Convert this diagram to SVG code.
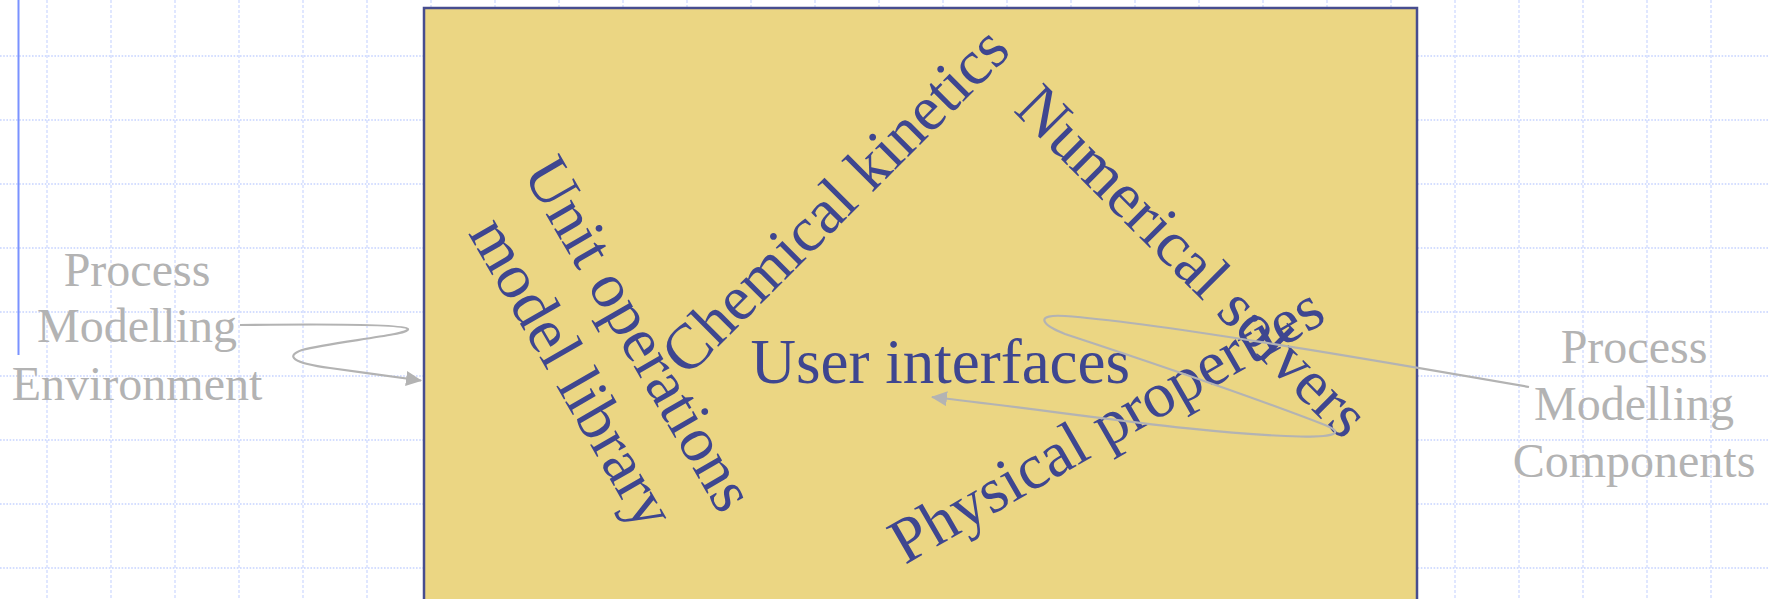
<svg xmlns="http://www.w3.org/2000/svg" width="1769" height="599" viewBox="0 0 1769 599">
  <style>
    .grid-h { stroke: #c6d3ff; stroke-width: 1.6; stroke-dasharray: 1.6 1.6; fill: none; }
    .grid-v { stroke: #d3ddff; stroke-width: 1.4; stroke-dasharray: 3 2; fill: none; }
    .topic { font-family: "Liberation Serif", "Times New Roman", serif; font-size: 64px; fill: #3e4690; }
    .note { font-family: "Liberation Serif", "Times New Roman", serif; font-size: 48px; fill: #b3b3b3; text-anchor: middle; }
    .conn { fill: none; stroke: #b3b3b3; stroke-width: 2.2; }
  </style>
  <defs>
    <marker id="arrow" markerUnits="userSpaceOnUse" markerWidth="18" markerHeight="16" refX="15" refY="7.5" orient="auto">
      <path d="M0,0 L16,7.5 L0,15 z" fill="#b3b3b3"/>
    </marker>
  </defs>

  <rect width="1769" height="599" fill="#ffffff"/>

  <!-- background grid -->
  <g id="grid">
    <path class="grid-h" d="M0,56H1769M0,120H1769M0,184H1769M0,248H1769M0,312H1769M0,376H1769M0,440H1769M0,504H1769M0,568H1769"/>
    <path class="grid-v" d="M47,0V599M111,0V599M175,0V599M239,0V599M303,0V599M367,0V599M431,0V599M495,0V599M559,0V599M623,0V599M687,0V599M751,0V599M815,0V599M879,0V599M943,0V599M1007,0V599M1071,0V599M1135,0V599M1199,0V599M1263,0V599M1327,0V599M1391,0V599M1455,0V599M1519,0V599M1583,0V599M1647,0V599M1711,0V599"/>
    <line x1="18.5" y1="0" x2="18.5" y2="355" stroke="#7a92ff" stroke-width="2"/>
  </g>

  <!-- environment panel -->
  <g id="environment">
    <rect x="424" y="8" width="993" height="620" fill="#ebd683" stroke="#474d8f" stroke-width="2.5"/>
  </g>

  <g id="unit-operations">
    <text class="topic" text-anchor="middle" transform="translate(621,344.5) rotate(60)"><tspan x="0" y="0">Unit operations</tspan><tspan x="0" y="77">model library</tspan></text>
  </g>
  <g id="chemical-kinetics">
    <text class="topic" transform="translate(687,378) rotate(-45)">Chemical kinetics</text>
  </g>
  <g id="numerical-solvers">
    <text class="topic" transform="translate(1012.5,110.7) rotate(45)">Numerical solvers</text>
  </g>
  <g id="user-interfaces">
    <text class="topic" x="750.5" y="383" style="font-size:63px">User interfaces</text>
  </g>
  <g id="physical-properties">
    <text class="topic" transform="translate(905,565) rotate(-30)">Physical properties</text>
  </g>

  <g id="label-environment">
    <text class="note"><tspan x="137" y="286">Process</tspan><tspan x="137" y="342">Modelling</tspan><tspan x="137" y="400">Environment</tspan></text>
  </g>
  <g id="label-components">
    <text class="note"><tspan x="1634" y="363">Process</tspan><tspan x="1634" y="420">Modelling</tspan><tspan x="1634" y="477">Components</tspan></text>
  </g>

  <!-- connectors -->
  <g id="connectors">
    <path class="conn" marker-end="url(#arrow)" d="M240,325 C320,324 405,324 408,329 C410,335 330,342 302,350 C285,356 292,363 330,368 C360,372 395,377 421,380.5"/>
    <path class="conn" marker-end="url(#arrow)" d="M1529,387 C1350,356 1150,322 1065,316 C1035,314 1040,324 1065,334 C1150,362 1255,398 1325,425 C1345,433 1335,437 1300,436.5 C1200,434 1080,414 932,397"/>
  </g>
</svg>
